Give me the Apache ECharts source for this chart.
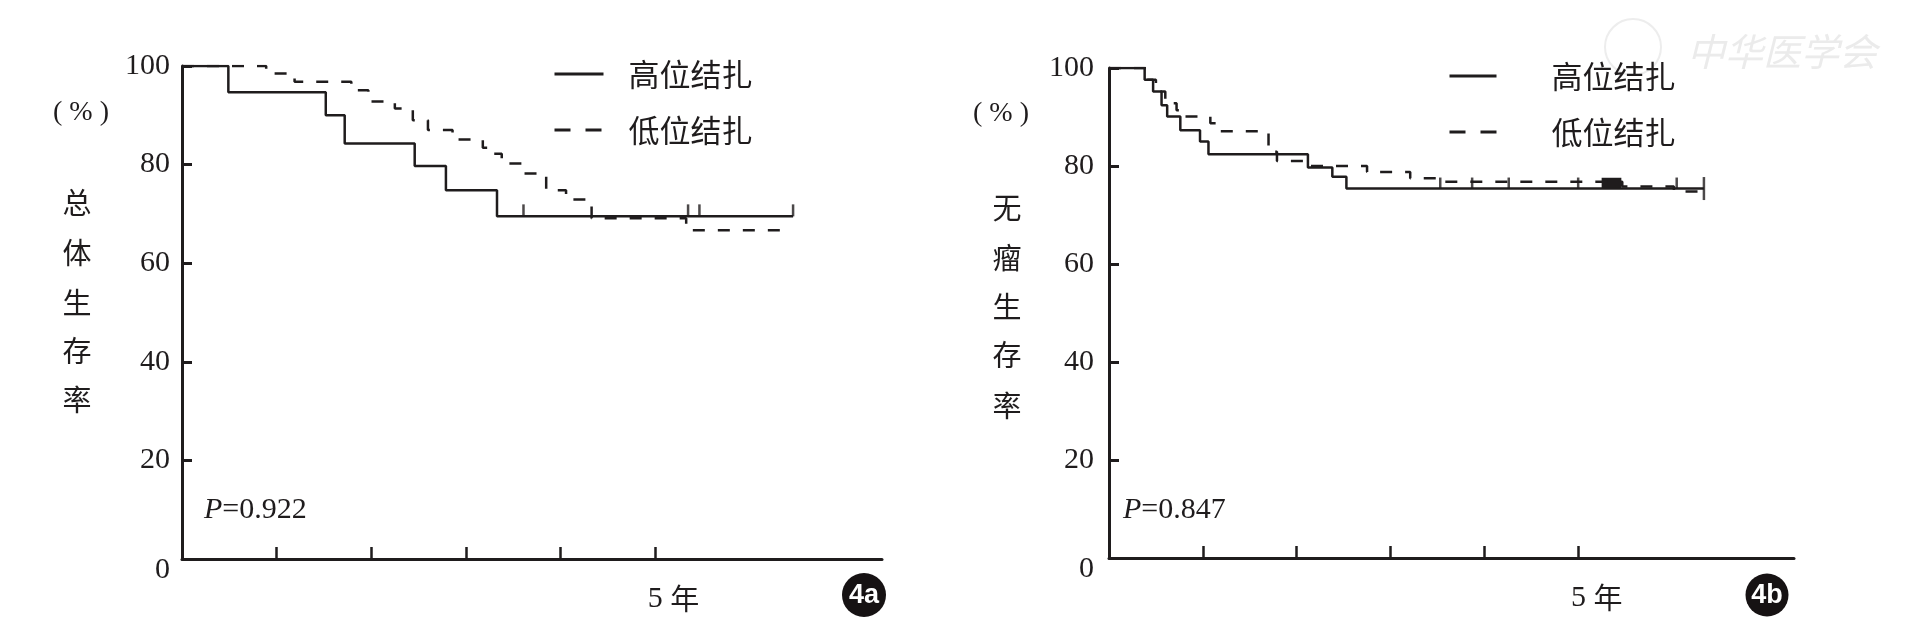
<!DOCTYPE html>
<html><head><meta charset="utf-8">
<script src="https://cdn.jsdelivr.net/npm/echarts@6/dist/echarts.min.js"></script>
<style>html,body{margin:0;padding:0;background:#fff}#c{width:1924px;height:626px}</style>
</head><body><div id="c"></div>
<script>
// ---- data ----
const seriesNames = ['高位结扎', '低位结扎'];
const yTicks = [0, 20, 40, 60, 80, 100];
const xTickValues = [1, 2, 3, 4, 5];
const xLabelValues = [5];
const xUnit = '年';
const yAxisNameA = ['总', '体', '生', '存', '率'];
const yAxisNameB = ['无', '瘤', '生', '存', '率'];
const yUnit = '( % )';
const pValueA = '0.922';
const pValueB = '0.847';
const panelA = '4a';
const panelB = '4b';

// 4a overall survival (time in years, survival %)
const osHigh = [[0,100],[0.49,94.7],[1.52,90.0],[1.72,84.3],[2.46,79.7],[2.79,74.8],[3.33,69.5],[6.46,69.5]];
const osLow = [[0,100],[0.89,98.5],[1.19,96.8],[1.79,95.1],[1.97,92.8],[2.25,91.4],[2.44,89.0],[2.60,87.0],[2.86,85.1],[3.18,83.4],[3.25,82.2],[3.38,80.2],[3.61,78.2],[3.85,74.8],[4.06,72.9],[4.33,69.1],[5.33,66.7],[6.39,66.7]];
const osHighCensor = [[3.61,69.5],[5.35,69.5],[5.47,69.5],[6.46,69.5]];

// 4b disease-free survival
const dfsHigh = [[0,100],[0.38,97.6],[0.47,95.2],[0.56,92.4],[0.62,90.1],[0.76,87.3],[0.97,85.0],[1.06,82.4],[2.12,79.7],[2.38,77.8],[2.53,75.4],[6.34,75.4]];
const dfsLow = [[0,100],[0.40,97.6],[0.50,95.2],[0.60,92.8],[0.72,91.4],[0.79,90.1],[1.08,88.7],[1.18,87.1],[1.70,82.9],[1.79,81.0],[2.11,80.0],[2.75,78.8],[3.21,77.5],[3.56,76.8],[5.47,75.8],[6.02,74.8],[6.30,74.8]];
const dfsHighCensor = [[3.53,75.4],[3.87,75.4],[4.26,75.4],[5.00,75.4],[6.05,75.4]];
const dfsHighEnd = [[6.34,75.4]];
const dfsCensorBlock = [[5.25,77.6],[5.46,75.3]];

// ---- styling ----
const INK = '#1f1c1d';
const SERIF = '"Liberation Serif","DejaVu Serif",serif';
const CJK = '"Noto Sans CJK SC","Noto Sans CJK JP",sans-serif';
const DASH = [12, 13];

function yAxis(gi, margin) {
  return {
    type: 'value', gridIndex: gi, min: 0, max: 100, interval: 20,
    axisLine: { show: true, lineStyle: { color: INK, width: 3 } },
    axisTick: { show: true, inside: true, length: 10, lineStyle: { color: INK, width: 3 } },
    splitLine: { show: false },
    axisLabel: {
      margin: margin, color: INK, fontFamily: SERIF, fontSize: 30,
      formatter: v => v === 0 ? '{z|0}' : String(v),
      rich: { z: { padding: [22, 0, 0, 0], fontFamily: SERIF, fontSize: 30, color: INK } }
    }
  };
}
function xAxis(gi, max) {
  return {
    type: 'value', gridIndex: gi, min: 0, max: max, interval: 1,
    axisLine: { show: true, lineStyle: { color: INK, width: 3 } },
    axisTick: { show: true, inside: true, length: 12, customValues: xTickValues, lineStyle: { color: INK, width: 2.5 } },
    splitLine: { show: false },
    axisLabel: {
      customValues: xLabelValues, margin: 24, color: INK, fontFamily: SERIF, fontSize: 30,
      formatter: v => '{sp|}{n|' + v + '} {c|' + xUnit + '}',
      rich: {
        sp: { width: 37, height: 32 },
        n: { fontFamily: SERIF, fontSize: 30, color: INK, lineHeight: 32 },
        c: { fontFamily: CJK, fontSize: 29, color: INK, lineHeight: 32 }
      }
    }
  };
}
function curve(name, data, gi, dashed) {
  return {
    type: 'line', name: name, data: data, step: 'end', xAxisIndex: gi, yAxisIndex: gi,
    symbol: 'none', silent: true, animation: false,
    lineStyle: { color: INK, width: 2.5, type: dashed ? DASH : 'solid' },
    itemStyle: { color: INK }
  };
}
function censor(data, gi, h, off) {
  return {
    type: 'scatter', name: 'censor' + gi + h, data: data, xAxisIndex: gi, yAxisIndex: gi,
    symbol: 'rect', symbolSize: [2.5, h], symbolOffset: [0, off], silent: true, animation: false,
    itemStyle: { color: INK }, z: 5
  };
}
function legend(left, top, w, pad) {
  return {
    left: left, top: top, orient: 'vertical', itemWidth: w, itemHeight: 16, itemGap: 22,
    padding: 0, selectedMode: false,
    itemStyle: { opacity: 0, borderWidth: 0 },
    textStyle: { fontFamily: CJK, fontSize: 31, color: INK, lineHeight: 34, padding: [0, 0, 0, pad] },
    data: [
      { name: seriesNames[0], lineStyle: { width: 3, type: 'solid' } },
      { name: seriesNames[1], lineStyle: { width: 3, type: [16, 15] } }
    ]
  };
}
function vText(chars, unit, ux, uy, cx, cys) {
  const els = [{ type: 'text', x: ux, y: uy, style: { text: unit, fontFamily: SERIF, fontSize: 28, fill: INK, align: 'center', verticalAlign: 'middle' } }];
  chars.forEach((ch, i) => els.push({ type: 'text', x: cx, y: cys[i], style: { text: ch, fontFamily: CJK, fontSize: 29, fill: INK, align: 'center', verticalAlign: 'middle' } }));
  return els;
}
function pText(x, y, val) {
  return { type: 'text', x: x, y: y, style: {
    text: '{i|P}=' + val, fontFamily: SERIF, fontSize: 30, fill: INK, verticalAlign: 'middle',
    rich: { i: { fontFamily: SERIF, fontStyle: 'italic', fontSize: 30, fill: INK } } } };
}
function badge(cx, cy, r, label) {
  return [
    { type: 'circle', shape: { cx: cx, cy: cy, r: r }, style: { fill: '#161213' } },
    { type: 'text', x: cx, y: cy + 1, style: { text: label, fontFamily: '"Liberation Sans Narrow","Liberation Sans",sans-serif', fontWeight: 'bold', fontSize: 27, fill: '#fff', align: 'center', verticalAlign: 'middle' } }
  ];
}

const option = {
  backgroundColor: '#fff',
  animation: false,
  grid: [
    { left: 182, top: 66, width: 700, height: 493 },
    { left: 1109, top: 68, width: 685, height: 490 }
  ],
  xAxis: [xAxis(0, 7.4), xAxis(1, 7.3)],
  yAxis: [yAxis(0, 12), yAxis(1, 15)],
  legend: [legend(553, 57, 49, 20), legend(1448, 59, 47, 50)],
  series: [
    curve(seriesNames[0], osHigh, 0, false),
    curve(seriesNames[1], osLow, 0, true),
    censor(osHighCensor, 0, 12, -6),
    Object.assign(curve(seriesNames[0], dfsHigh, 1, false), {
      markArea: { silent: true, itemStyle: { color: INK }, data: [[{ xAxis: dfsCensorBlock[0][0], yAxis: dfsCensorBlock[0][1] }, { xAxis: dfsCensorBlock[1][0], yAxis: dfsCensorBlock[1][1] }]] }
    }),
    curve(seriesNames[1], dfsLow, 1, true),
    censor(dfsHighCensor, 1, 11, -5.5),
    censor(dfsHighEnd, 1, 23, 0)
  ],
  graphic: [
    ...vText(yAxisNameA, yUnit, 81, 113, 77, [203, 253, 303, 351, 400]),
    ...vText(yAxisNameB, yUnit, 1001, 114, 1007, [208, 258, 307, 355, 406]),
    pText(204, 510, pValueA),
    pText(1123, 510, pValueB),
    ...badge(864, 595, 22, panelA),
    ...badge(1767, 595, 21.5, panelB),
    { type: 'circle', shape: { cx: 1633, cy: 47, r: 28 }, style: { fill: 'none', stroke: '#ededed', lineWidth: 2 } },
    { type: 'text', x: 1687, y: 52, style: { text: '中华医学会', fontFamily: CJK, fontStyle: 'italic', fontSize: 38, fill: '#ebebeb', verticalAlign: 'middle' } }
  ]
};
const chart = echarts.init(document.getElementById('c'), null, { renderer: 'canvas' });
chart.setOption(option);
</script>
</body></html>
